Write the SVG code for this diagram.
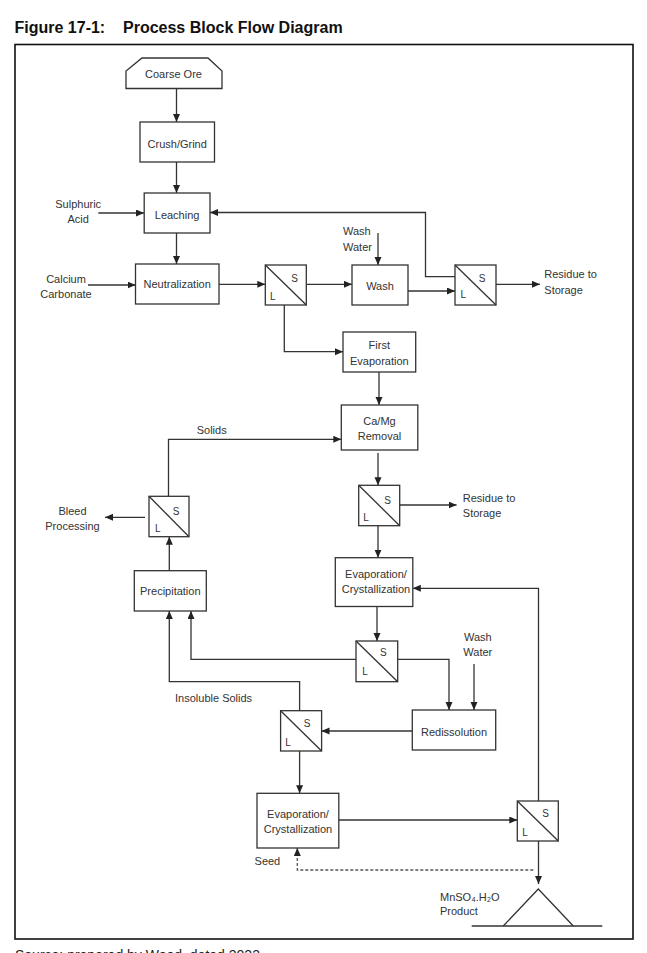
<svg xmlns="http://www.w3.org/2000/svg" width="647" height="953" viewBox="0 0 647 953">
<defs>
<style>
.box{fill:#fff;stroke:#333;stroke-width:1.3}
.ln{fill:none;stroke:#333;stroke-width:1.3}
.dash{fill:none;stroke:#555;stroke-width:1.3;stroke-dasharray:3 2}
.t{font-family:"Liberation Sans",Arial,sans-serif;font-size:11px;fill:#333;text-anchor:middle}
.ts{font-family:"Liberation Sans",Arial,sans-serif;font-size:11px;fill:#333;text-anchor:start}
.sl{font-family:"Liberation Sans",Arial,sans-serif;font-size:10px;fill:#333;text-anchor:middle}
.title{font-family:"Liberation Sans",Arial,sans-serif;font-size:16px;font-weight:bold;fill:#111}
</style>
<marker id="ah" markerUnits="userSpaceOnUse" markerWidth="9" markerHeight="8" refX="8" refY="3.5" orient="auto">
<path d="M0,0 L8,3.5 L0,7 z" fill="#222"/>
</marker>
</defs>
<rect width="647" height="953" fill="#fff"/>
<text class="title" x="14.5" y="32.5">Figure 17-1:</text>
<text class="title" x="123" y="32.5">Process Block Flow Diagram</text>
<rect x="15" y="44.5" width="618" height="894.5" fill="none" stroke="#111" stroke-width="1.6"/>

<g id="connectors">
<line class="ln" x1="176.5" y1="88.5" x2="176.5" y2="122" marker-end="url(#ah)"/>
<line class="ln" x1="176.5" y1="162" x2="176.5" y2="193" marker-end="url(#ah)"/>
<line class="ln" x1="98.3" y1="213" x2="144" y2="213" marker-end="url(#ah)"/>
<polyline class="ln" points="455,276.7 425.5,276.7 425.5,212.5 210,212.5" marker-end="url(#ah)"/>
<line class="ln" x1="176.5" y1="233" x2="176.5" y2="264" marker-end="url(#ah)"/>
<line class="ln" x1="88" y1="285" x2="135.5" y2="285" marker-end="url(#ah)"/>
<line class="ln" x1="219" y1="284.3" x2="265.3" y2="284.3" marker-end="url(#ah)"/>
<line class="ln" x1="306.2" y1="284.3" x2="352" y2="284.3" marker-end="url(#ah)"/>
<line class="ln" x1="378" y1="233" x2="378" y2="265" marker-end="url(#ah)"/>
<line class="ln" x1="408" y1="291" x2="455" y2="291" marker-end="url(#ah)"/>
<line class="ln" x1="496" y1="284.3" x2="540" y2="284.3" marker-end="url(#ah)"/>
<polyline class="ln" points="284.3,305 284.3,351.7 343,351.7" marker-end="url(#ah)"/>
<line class="ln" x1="379" y1="372" x2="379" y2="405" marker-end="url(#ah)"/>
<polyline class="ln" points="168.5,496.3 168.5,439.3 341.3,439.3" marker-end="url(#ah)"/>
<line class="ln" x1="378" y1="453" x2="378" y2="485.3" marker-end="url(#ah)"/>
<line class="ln" x1="399.6" y1="505" x2="456.6" y2="505" marker-end="url(#ah)"/>
<line class="ln" x1="378" y1="525.7" x2="378" y2="557.7" marker-end="url(#ah)"/>
<line class="ln" x1="145" y1="517.3" x2="105" y2="517.3" marker-end="url(#ah)"/>
<line class="ln" x1="169.3" y1="570.7" x2="169.3" y2="536.7" marker-end="url(#ah)"/>
<polyline class="ln" points="299.6,710.7 299.6,681.7 169.3,681.7 169.3,611" marker-end="url(#ah)"/>
<polyline class="ln" points="356,659.3 191,659.3 191,611" marker-end="url(#ah)"/>
<line class="ln" x1="377" y1="606.5" x2="377" y2="641" marker-end="url(#ah)"/>
<polyline class="ln" points="397.7,659.3 449,659.3 449,710" marker-end="url(#ah)"/>
<line class="ln" x1="474" y1="664" x2="474" y2="710" marker-end="url(#ah)"/>
<line class="ln" x1="412.3" y1="731" x2="321.5" y2="731" marker-end="url(#ah)"/>
<line class="ln" x1="299.6" y1="751" x2="299.6" y2="793.3" marker-end="url(#ah)"/>
<line class="ln" x1="338.8" y1="820" x2="517.3" y2="820" marker-end="url(#ah)"/>
<polyline class="ln" points="538.5,801 538.5,588.3 412.8,588.3" marker-end="url(#ah)"/>
<line class="ln" x1="538.5" y1="841" x2="538.5" y2="884" marker-end="url(#ah)"/>
<polyline class="dash" points="533.3,870 297.3,870 297.3,848" marker-end="url(#ah)"/>
</g>

<g id="coarse-ore">
<polygon class="box" points="126,88.5 126,71 142,58 208,58 222,71 222,88.5"/>
<text class="t" x="173.5" y="78">Coarse Ore</text>
</g>
<g id="crush-grind">
<rect class="box" x="140" y="122" width="74.5" height="40"/>
<text class="t" x="177.2" y="148">Crush/Grind</text>
</g>
<g id="leaching">
<rect class="box" x="144.2" y="193" width="65.8" height="40"/>
<text class="t" x="177.1" y="219">Leaching</text>
</g>
<g id="neutralization">
<rect class="box" x="135.5" y="264" width="83.5" height="40"/>
<text class="t" x="177.2" y="287.7">Neutralization</text>
</g>
<g id="filter-1">
<rect class="box" x="265.3" y="265" width="41" height="40"/>
<line class="ln" x1="265.3" y1="265" x2="306.3" y2="305"/>
<text class="sl" x="294.6" y="281.7">S</text>
<text class="sl" x="272.7" y="299.7">L</text>
</g>
<g id="wash">
<rect class="box" x="352" y="265" width="56" height="40"/>
<text class="t" x="380" y="289.5">Wash</text>
</g>
<g id="filter-2">
<rect class="box" x="455" y="265" width="41" height="40"/>
<line class="ln" x1="455" y1="265" x2="496" y2="305"/>
<text class="sl" x="482" y="282">S</text>
<text class="sl" x="463.3" y="298">L</text>
</g>
<g id="first-evaporation">
<rect class="box" x="343" y="332" width="72.7" height="40"/>
<text class="t" x="379.3" y="349">First</text>
<text class="t" x="379.3" y="364.7">Evaporation</text>
</g>
<g id="camg-removal">
<rect class="box" x="341.3" y="405" width="76.5" height="45"/>
<text class="t" x="379.5" y="424.7">Ca/Mg</text>
<text class="t" x="379.5" y="439.7">Removal</text>
</g>
<g id="filter-4">
<rect class="box" x="358.7" y="485.3" width="41" height="40.4"/>
<line class="ln" x1="358.7" y1="485.3" x2="399.7" y2="525.7"/>
<text class="sl" x="387.6" y="504">S</text>
<text class="sl" x="366" y="520.7">L</text>
</g>
<g id="filter-3">
<rect class="box" x="149" y="496.3" width="40" height="40.4"/>
<line class="ln" x1="149" y1="496.3" x2="189" y2="536.7"/>
<text class="sl" x="176" y="515">S</text>
<text class="sl" x="157.7" y="532.3">L</text>
</g>
<g id="precipitation">
<rect class="box" x="134.3" y="570.7" width="72" height="40.3"/>
<text class="t" x="170.3" y="594.7">Precipitation</text>
</g>
<g id="evap-cryst-1">
<rect class="box" x="335.3" y="557.7" width="77.5" height="48.8"/>
<text class="t" x="376" y="578.3">Evaporation/</text>
<text class="t" x="376" y="593.3">Crystallization</text>
</g>
<g id="filter-6">
<rect class="box" x="356" y="641" width="41.7" height="40.7"/>
<line class="ln" x1="356" y1="641" x2="397.7" y2="681.7"/>
<text class="sl" x="383.3" y="656">S</text>
<text class="sl" x="365" y="674.7">L</text>
</g>
<g id="redissolution">
<rect class="box" x="412.3" y="710" width="83.4" height="40"/>
<text class="t" x="454" y="736.3">Redissolution</text>
</g>
<g id="filter-5">
<rect class="box" x="280.6" y="710.7" width="41" height="40.3"/>
<line class="ln" x1="280.6" y1="710.7" x2="321.6" y2="751"/>
<text class="sl" x="307" y="726.7">S</text>
<text class="sl" x="288" y="745.7">L</text>
</g>
<g id="evap-cryst-2">
<rect class="box" x="257" y="793.3" width="81.8" height="54.7"/>
<text class="t" x="298" y="818">Evaporation/</text>
<text class="t" x="298" y="833.3">Crystallization</text>
</g>
<g id="filter-7">
<rect class="box" x="517.3" y="801" width="41" height="40"/>
<line class="ln" x1="517.3" y1="801" x2="558.3" y2="841"/>
<text class="sl" x="545.7" y="817.3">S</text>
<text class="sl" x="525" y="835.7">L</text>
</g>
<g id="product">
<polyline class="ln" points="503.3,926 538.3,889 573.3,926"/>
<line class="ln" x1="471.7" y1="926" x2="602.3" y2="926"/>
</g>

<g id="labels">
<text class="t" x="78.2" y="208">Sulphuric</text>
<text class="t" x="78.2" y="223">Acid</text>
<text class="t" x="66" y="283">Calcium</text>
<text class="t" x="66" y="298">Carbonate</text>
<text class="ts" x="343" y="235">Wash</text>
<text class="ts" x="343" y="251">Water</text>
<text class="ts" x="544.3" y="278.3">Residue to</text>
<text class="ts" x="544.3" y="294">Storage</text>
<text class="t" x="211.7" y="434.3">Solids</text>
<text class="ts" x="462.8" y="502">Residue to</text>
<text class="ts" x="462.8" y="517">Storage</text>
<text class="t" x="72.5" y="514.7">Bleed</text>
<text class="t" x="72.5" y="530">Processing</text>
<text class="t" x="477.8" y="640.7">Wash</text>
<text class="t" x="477.8" y="656.3">Water</text>
<text class="t" x="213.6" y="701.7">Insoluble Solids</text>
<text class="t" x="267.4" y="864.7">Seed</text>
<text class="ts" x="440" y="900.7">MnSO₄.H₂O</text>
<text class="ts" x="440" y="914.7">Product</text>
</g>
<text x="15" y="959.5" style="font-family:'Liberation Sans',Arial,sans-serif;font-size:14px;fill:#222">Source: prepared by Wood, dated 2022</text>
</svg>
